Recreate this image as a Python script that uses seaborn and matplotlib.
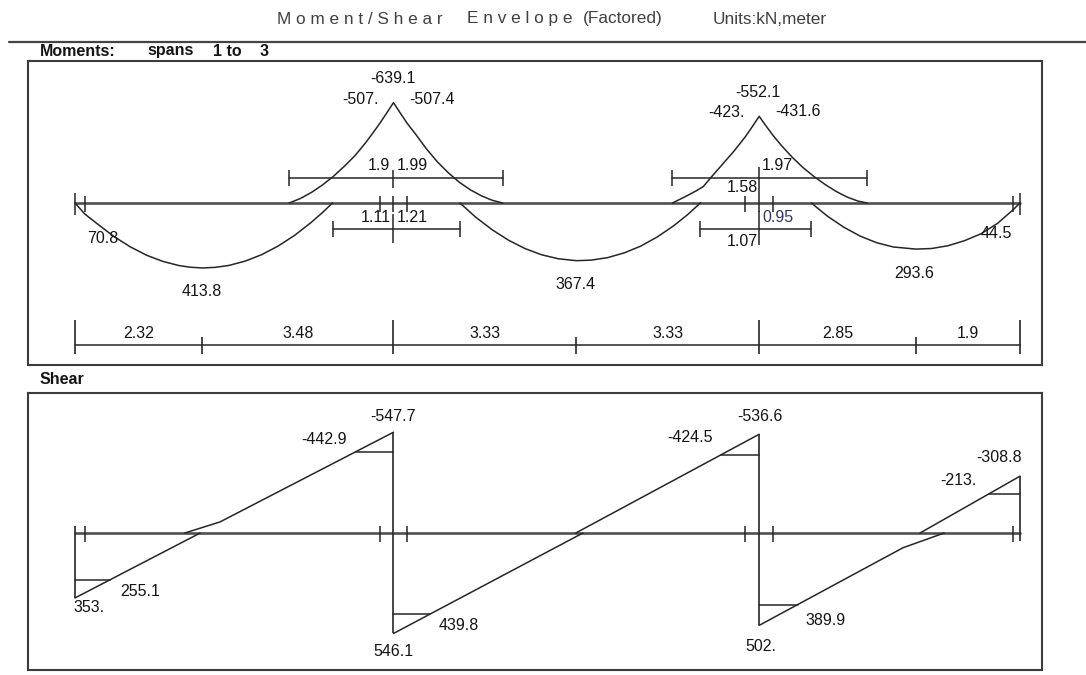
import matplotlib
matplotlib.use('Agg')
import matplotlib.pyplot as plt
import seaborn as sns
from matplotlib.lines import Line2D

# ---------- DATA ----------
supports = [0.0, 5.8, 12.46, 17.21]                # support centre lines (m)
faces = [0.18, 5.55, 6.05, 12.21, 12.71, 17.08]    # support faces (m)
dim_parts = [2.32, 3.48, 3.33, 3.33, 2.85, 1.9]    # dimension string (m)

# moment envelope, kN-m (hogging negative -> drawn upward)
m_span1_x = [0, 0.18, 0.4, 0.7, 1.0, 1.3, 1.6, 1.9, 2.1, 2.32, 2.55, 2.8, 3.1, 3.4, 3.7, 4.0, 4.3, 4.5, 4.69]
m_span1 = [0, 70.8, 131, 211, 278, 332, 372, 399, 409, 413.8, 410, 398, 370, 329, 274, 206, 124, 63, 0]
m_sup2_x = [3.9, 4.1, 4.3, 4.5, 4.7, 4.9, 5.1, 5.3, 5.45, 5.55, 5.68, 5.8,
            5.92, 6.05, 6.2, 6.4, 6.6, 6.8, 7.0, 7.2, 7.4, 7.6, 7.79]
m_sup2 = [0, -28, -66, -113, -168, -232, -302, -387, -458, -507, -575, -639.1,
          -575, -507.4, -440, -345, -262, -192, -132, -84, -46, -17, 0]
m_span2_x = [7.01, 7.3, 7.6, 7.9, 8.2, 8.5, 8.8, 9.13, 9.4, 9.7, 10.0, 10.3, 10.6, 10.9, 11.15, 11.39]
m_span2 = [0, 91, 171, 238, 291, 330, 355, 367.4, 364, 348, 318, 275, 217, 146, 76, 0]
m_sup3_x = [10.88, 11.1, 11.3, 11.44, 11.6, 11.8, 12.0, 12.21, 12.34, 12.46,
            12.58, 12.71, 12.86, 13.06, 13.26, 13.46, 13.66, 13.86, 14.06, 14.26, 14.43]
m_sup3 = [0, -38, -75, -104, -170, -250, -330, -423, -489, -552.1,
          -493, -431.6, -368, -292, -225, -168, -118, -74, -38, -12, 0]
m_span3_x = [13.41, 13.7, 14.0, 14.3, 14.6, 14.9, 15.31, 15.6, 15.9, 16.2, 16.5, 16.8, 17.08, 17.21]
m_span3 = [0, 83, 154, 211, 253, 280, 293.6, 290, 272, 240, 196, 130, 44.5, 0]

# labelled moment values
m_lab_x = [5.8, 5.55, 6.05, 0.18, 2.32, 9.13, 12.46, 12.21, 12.71, 15.31, 17.08]
m_lab_v = [-639.1, -507, -507.4, 70.8, 413.8, 367.4, -552.1, -423, -431.6, 293.6, 44.5]

# zero-moment distances measured from the interior supports (m)
infl_sup = [5.8, 12.46]
neg_left = [1.9, 1.58]
neg_right = [1.99, 1.97]
pos_left = [1.11, 1.07]
pos_right = [1.21, 0.95]

# shear envelope, kN (positive drawn downward)
v_lines_x = [[0, 2.28], [2.0, 2.64, 5.8],
             [5.8, 9.25], [9.12, 12.46],
             [12.46, 15.08, 15.83], [15.39, 17.21]]
v_lines = [[353, 0], [0, -60, -547.7],
           [546.1, 0], [0, -536.6],
           [502, 80, 0], [0, -308.8]]
jump_x = [0.0, 5.8, 12.46, 17.21]
jump_top = [0, -547.7, -536.6, -308.8]
jump_bot = [353, 546.1, 502, 0]
crit_sup = [0.0, 5.8, 5.8, 12.46, 12.46, 17.21]
crit_x = [0.64, 5.12, 6.47, 11.76, 13.16, 16.645]
crit_v = [255.1, -442.9, 439.8, -424.5, 389.9, -213.0]

v_lab_x = [0, 0.64, 5.12, 5.8, 5.8, 6.47, 11.76, 12.46, 12.46, 13.16, 16.645, 17.21]
v_lab_v = [353, 255.1, -442.9, -547.7, 546.1, 439.8, -424.5, -536.6, 502, 389.9, -213, -308.8]

# ---------- STYLE / LAYOUT ----------
sns.set_theme(style='white')
plt.rcParams['font.family'] = ['Liberation Sans', 'DejaVu Sans']

W, H = 1086, 675
BOX_L, BOX_R = 28, 1042
X0 = 75                                   # pixel column of x = 0
PXM = (1020 - X0) / supports[-1]          # pixels per metre
LINE = '#262626'
AXIS = '#505050'
TXT = '#141414'
FS = 11.5


def fmt(v):
    return f'{v:.0f}.' if float(v).is_integer() else f'{v:g}'


fig = plt.figure(figsize=(W / 100, H / 100), dpi=100)


def make_box(top, bottom, axis_row, scale):
    ax = fig.add_axes([BOX_L / W, 1 - bottom / H, (BOX_R - BOX_L) / W, (bottom - top) / H])
    ax.set_xticks([])
    ax.set_yticks([])
    for s in ax.spines.values():
        s.set_visible(True)
        s.set_color('#3c3c3c')
        s.set_linewidth(1.5)
    row = lambda py: (py - axis_row) / scale
    return ax, row


def finish(ax, top, bottom, row):
    ax.set_xlim((BOX_L - X0) / PXM, (BOX_R - X0) / PXM)
    ax.set_ylim(row(bottom), row(top))
    ax.set_xlabel('')
    ax.set_ylabel('')


def lab(ax, x, y, text, ha, dx, dy, color=TXT):
    ax.annotate(text, (x, y), xytext=(dx, dy), textcoords='offset pixels',
                ha=ha, va='center', fontsize=FS, color=color)


# ---------- HEADER ----------
fig.text(277 / W, 1 - 19 / H, ' '.join('Moment/Shear'), fontsize=12.4, color='#404040', va='center')
fig.text(467 / W, 1 - 19 / H, ' '.join('Envelope'), fontsize=12.4, color='#404040', va='center')
fig.text(583 / W, 1 - 19 / H, '(Factored)', fontsize=12.4, color='#404040', va='center')
fig.text(713 / W, 1 - 19 / H, 'Units:kN,meter', fontsize=12.4, color='#404040', va='center')
fig.add_artist(Line2D([9 / W, 1], [1 - 42 / H, 1 - 42 / H], color='#444444', lw=1.6))
fig.text(40 / W, 1 - 51 / H, 'Moments:', fontsize=11.5, fontweight='bold', color=TXT, va='center')
fig.text(147 / W, 1 - 51 / H, 'spans', fontsize=11.5, fontweight='bold', color=TXT, va='center')
fig.text(213 / W, 1 - 51 / H, '1 to', fontsize=11.5, fontweight='bold', color=TXT, va='center')
fig.text(260 / W, 1 - 51 / H, '3', fontsize=11.5, fontweight='bold', color=TXT, va='center')
fig.text(40 / W, 1 - 380 / H, 'Shear', fontsize=11.5, fontweight='bold', color=TXT, va='center')

# ---------- MOMENT BOX ----------
M_TOP, M_BOT = 61, 365
axm, mrow = make_box(M_TOP, M_BOT, 203, 0.157)

axm.plot([supports[0], supports[-1]], [0, 0], color=AXIS, lw=1.9)
for xs, ys in [(m_span1_x, m_span1), (m_sup2_x, m_sup2), (m_span2_x, m_span2),
               (m_sup3_x, m_sup3), (m_span3_x, m_span3)]:
    sns.lineplot(x=xs, y=ys, ax=axm, color=LINE, lw=1.1, sort=False, estimator=None)

# support ticks on the beam line
axm.vlines([supports[0], supports[-1]], mrow(193), mrow(215), color=LINE, lw=1.1)
axm.vlines(faces + supports[1:3], mrow(196), mrow(212), color=LINE, lw=1.1)

# zero-moment dimension marks around the interior supports
up_row, lo_row = 178, 229
for i, s in enumerate(infl_sup):
    a, b = s - neg_left[i], s + neg_right[i]
    c, d = s - pos_left[i], s + pos_right[i]
    axm.plot([a, b], [mrow(up_row)] * 2, color=LINE, lw=1.1)
    axm.plot([c, d], [mrow(lo_row)] * 2, color=LINE, lw=1.1)
    axm.vlines([a, b], mrow(up_row - 8), mrow(up_row + 8), color=LINE, lw=1.1)
    axm.vlines([c, d], mrow(lo_row - 8), mrow(lo_row + 8), color=LINE, lw=1.1)
    if i == 0:
        axm.vlines(s, mrow(170), mrow(188), color=LINE, lw=1.1)
        axm.vlines(s, mrow(214), mrow(243), color=LINE, lw=1.1)
        lab(axm, s, mrow(165), fmt(neg_left[i]), 'right', -3, 0)
        lab(axm, s, mrow(165), fmt(neg_right[i]), 'left', 3, 0)
        lab(axm, s, mrow(218), fmt(pos_left[i]), 'right', -3, 0)
        lab(axm, s, mrow(218), fmt(pos_right[i]), 'left', 3, 0)
    else:
        axm.vlines(s, mrow(167), mrow(196), color=LINE, lw=1.1)
        axm.vlines(s, mrow(211), mrow(245), color=LINE, lw=1.1)
        lab(axm, s, mrow(166), fmt(neg_right[i]), 'left', 3, 0)
        lab(axm, s, mrow(188), fmt(neg_left[i]), 'right', -1, 0)
        lab(axm, s, mrow(217), fmt(pos_right[i]), 'left', 3, 0, color='#34346a')
        lab(axm, s, mrow(242), fmt(pos_left[i]), 'right', -1, 0)

# dimension string along the bottom
dim_row = 345
edges = [0.0]
for p in dim_parts:
    edges.append(round(edges[-1] + p, 2))
axm.plot([edges[0], edges[-1]], [mrow(dim_row)] * 2, color=LINE, lw=1.1)
for e in edges:
    if any(abs(e - s) < 1e-6 for s in supports):
        axm.vlines(e, mrow(320), mrow(354), color=LINE, lw=1.2)
    else:
        axm.vlines(e, mrow(337), mrow(354), color=LINE, lw=1.2)
for i, p in enumerate(dim_parts):
    lab(axm, (edges[i] + edges[i + 1]) / 2, mrow(333), fmt(p), 'center', 0, 0)

# moment values
for x, v in zip(m_lab_x, m_lab_v):
    dy = 24 if v < 0 else -24
    if x in supports or x in [2.32, 9.13, 15.31]:
        ha, dx = 'center', -1
    elif x < 1 or (x not in faces):
        ha, dx = 'left', 2
    else:
        k = faces.index(x)
        ha, dx = ('right', -1) if k % 2 == 1 or k == 5 else ('left', 2)
    lab(axm, x, v, fmt(v), ha, dx, dy)
finish(axm, M_TOP, M_BOT, mrow)

# ---------- SHEAR BOX ----------
V_TOP, V_BOT = 393, 670
axv, vrow = make_box(V_TOP, V_BOT, 533, 0.184)

axv.plot([supports[0], supports[-1]], [0, 0], color=AXIS, lw=1.9)
for xs, ys in zip(v_lines_x, v_lines):
    sns.lineplot(x=xs, y=ys, ax=axv, color=LINE, lw=1.1, sort=False, estimator=None)
for x, t, b in zip(jump_x, jump_top, jump_bot):
    t = min(t, vrow(526))
    b = max(b, vrow(541))
    axv.vlines(x, t, b, color=LINE, lw=1.2)
axv.vlines(faces, vrow(526), vrow(542), color=LINE, lw=1.1)
for s, x, v in zip(crit_sup, crit_x, crit_v):
    axv.plot([s, x], [v, v], color=LINE, lw=1.1)

v_style = [('left', -2, -10), ('left', 10, -12), ('right', -9, 12), ('center', 0, 16),
           ('center', 0, -18), ('left', 8, -12), ('right', -8, 17), ('center', 1, 18),
           ('center', 2, -21), ('left', 8, -16), ('right', -12, 13), ('right', 2, 19)]
for (x, v), (ha, dx, dy) in zip(zip(v_lab_x, v_lab_v), v_style):
    lab(axv, x, v, fmt(v), ha, dx, dy)
finish(axv, V_TOP, V_BOT, vrow)

fig.savefig('out.png', dpi=100)
